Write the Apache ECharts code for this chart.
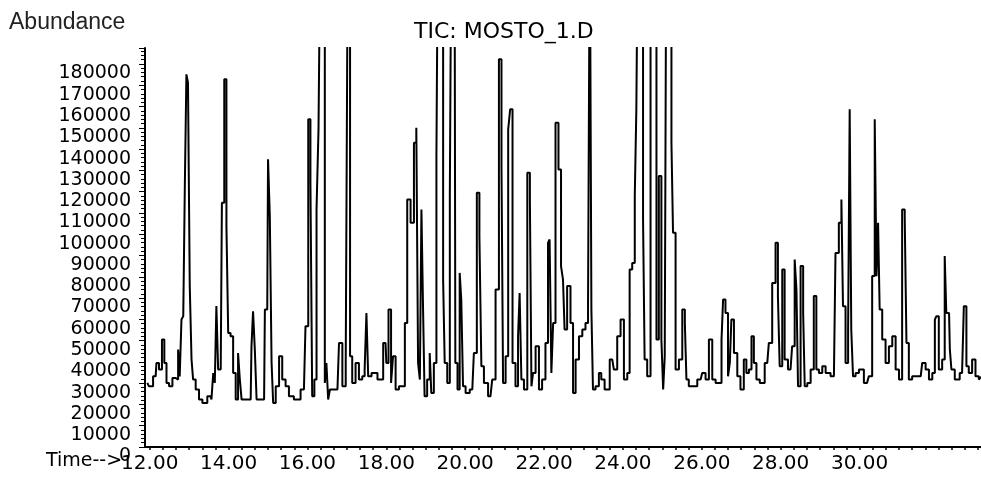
<!DOCTYPE html>
<html>
<head>
<meta charset="utf-8">
<title>TIC: MOSTO_1.D</title>
<script src="https://cdn.jsdelivr.net/npm/echarts@6/dist/echarts.min.js"></script>
<style>
  html, body { margin: 0; padding: 0; background: #fff; }
  #chart { width: 981px; height: 477px; }
</style>
</head>
<body>
<div id="chart"></div>
<script>
// Total ion chromatogram, [retention time (min), abundance] pairs, split by time window.
const trace12to16 = [
  [11.94,30100],[12.02,28500],[12.15,33200],[12.19,39500],[12.28,36400],[12.34,50500],[12.40,39500],[12.45,30100],
  [12.53,28500],[12.62,32400],[12.70,31700],[12.74,45800],[12.78,33200],[12.83,59900],[12.87,61500],[12.91,122600],
  [12.95,175100],[12.99,171200],[13.04,75600],[13.08,41100],[13.12,31700],[13.21,27000],[13.29,22300],[13.38,20700],
  [13.54,23800],[13.59,22300],[13.63,34800],[13.67,30100],[13.71,66200],[13.76,36400],[13.80,36400],[13.86,114800],
  [13.92,172800],[13.97,103800],[14.01,53600],[14.09,52000],[14.14,34800],[14.22,22300],[14.26,44200],[14.31,31700],
  [14.35,22300],[14.56,22300],[14.60,47300],[14.64,63800],[14.69,45800],[14.73,22300],[14.90,22300],[14.94,64600],
  [14.98,64600],[15.02,135200],[15.07,108500],[15.11,39500],[15.15,20700],[15.24,28500],[15.32,42600],[15.40,31700],
  [15.49,28500],[15.57,23800],[15.74,22300],[15.91,27000]
];
const trace16to20 = [
  [15.99,56800],[16.05,154000],[16.10,124200],[16.14,23800],[16.21,31700],[16.25,111600],[16.31,149300],[16.35,250000],
  [16.42,250000],[16.46,30100],[16.50,39500],[16.55,22300],[16.59,27000],[16.76,27000],[16.84,48900],[16.93,28500],
  [17.01,39500],[17.04,250000],[17.07,250000],[17.09,42600],[17.18,30100],[17.26,39500],[17.35,31700],[17.43,33200],
  [17.47,36400],[17.52,63000],[17.56,33200],[17.69,34800],[17.86,31700],[17.98,48900],[18.02,39500],[18.09,64600],
  [18.15,30100],[18.19,42600],[18.28,27000],[18.36,28500],[18.45,28500],[18.49,58300],[18.57,116300],[18.66,105400],
  [18.74,143000],[18.78,150000],[18.83,39500],[18.87,31700],[18.91,111600],[18.95,66200],[18.99,23800],[19.08,31700],
  [19.12,44200],[19.16,25400],[19.25,39500],[19.29,136700],[19.33,250000],[19.42,250000],[19.46,78700],[19.50,39500],
  [19.59,30100],[19.63,117900],[19.67,250000],[19.73,250000],[19.77,39500],[19.84,27000],[19.88,81800],[19.92,69300],
  [19.97,28500]
];
const trace20to24 = [
  [20.05,25400],[20.18,27000],[20.26,44200],[20.33,119500],[20.39,99100],[20.43,37900],[20.52,30100],[20.64,23800],
  [20.73,31700],[20.81,74000],[20.90,182200],[20.94,132000],[20.98,30100],[21.07,42600],[21.11,149300],[21.17,158700],
  [21.23,39500],[21.32,28500],[21.36,52000],[21.40,72400],[21.45,31700],[21.53,27000],[21.62,128900],[21.66,116300],
  [21.70,28500],[21.74,34800],[21.83,47300],[21.91,27000],[21.99,31700],[22.08,48900],[22.12,96000],[22.16,97500],
  [22.21,34800],[22.25,58300],[22.33,152400],[22.40,130400],[22.46,85000],[22.50,78700],[22.54,55200],[22.63,75600],
  [22.71,58300],[22.76,25400],[22.84,41100],[22.93,52000],[23.01,55200],[23.09,58300],[23.14,67700],[23.18,250000],
  [23.22,64600],[23.26,27000],[23.35,28500],[23.43,34800],[23.47,31700],[23.60,27000],[23.73,41100],[23.81,36400],
  [23.90,52000],[23.98,59900]
];
const trace24to28 = [
  [24.07,31700],[24.15,34800],[24.19,83400],[24.28,86500],[24.32,117900],[24.36,158700],[24.40,250000],[24.49,250000],
  [24.53,106900],[24.57,41100],[24.66,33200],[24.74,250000],[24.83,250000],[24.87,50500],[24.95,127300],[25.00,50500],
  [25.04,27000],[25.08,42600],[25.12,250000],[25.21,250000],[25.25,143000],[25.29,100700],[25.38,36400],[25.46,41100],
  [25.55,64600],[25.59,58300],[25.63,31700],[25.71,28500],[25.80,28500],[25.97,31700],[26.05,34800],[26.14,31700],
  [26.22,50500],[26.31,31700],[26.39,30100],[26.48,30100],[26.52,50500],[26.56,69300],[26.64,63000],[26.69,33200],
  [26.73,39500],[26.77,59900],[26.86,44200],[26.94,33200],[27.02,27000],[27.11,41100],[27.15,34800],[27.24,36400],
  [27.28,52000],[27.36,39500],[27.41,31700],[27.53,30100],[27.66,39500],[27.74,48900],[27.83,77100],[27.91,96000],
  [27.95,70900]
];
const trace28to33 = [
  [28.00,37900],[28.08,83400],[28.12,41100],[28.25,36400],[28.33,47300],[28.38,88100],[28.42,74000],[28.46,28500],
  [28.55,85000],[28.59,63000],[28.63,28500],[28.72,30100],[28.80,36400],[28.88,70900],[28.93,36400],[29.01,34800],
  [29.10,37900],[29.18,34800],[29.35,33200],[29.43,91200],[29.52,105400],[29.56,116300],[29.60,66200],[29.69,39500],
  [29.73,55200],[29.77,158700],[29.81,55200],[29.86,33200],[29.94,34800],[30.03,36400],[30.19,30100],[30.28,33200],
  [30.36,80300],[30.41,154000],[30.45,80300],[30.49,105400],[30.53,64600],[30.62,50500],[30.70,39500],[30.79,47300],
  [30.87,52000],[30.96,36400],[31.04,31700],[31.12,111600],[31.17,108500],[31.21,48900],[31.29,31700],[31.38,33200],
  [31.55,33200],[31.63,39500],[31.72,36400],[31.80,31700],[31.89,34800],[31.93,59900],[31.97,61500],[32.05,36400],
  [32.14,41100],[32.18,89700],[32.22,63000],[32.27,63000],[32.31,45800],[32.35,36400],[32.48,31700],[32.60,34800],
  [32.69,66200],[32.73,37900],[32.81,34800],[32.90,41100],[32.98,33200],[33.07,31700],[33.10,33000]
];

// Axis labels
const timeLabels = [12, 14, 16, 18, 20, 22, 24, 26, 28, 30];
const abundanceLabels = [0, 10000, 20000, 30000, 40000, 50000, 60000, 70000, 80000, 90000,
  100000, 110000, 120000, 130000, 140000, 150000, 160000, 170000, 180000];

// Small tick marks along the time axis, three per minute
const timeTickMarks = [];
for (let i = 0; i <= 63; i++) timeTickMarks.push(12 + i / 3);

const trace = [].concat(trace12to16, trace16to20, trace20to24, trace24to28, trace28to33);

const chart = echarts.init(document.getElementById('chart'), null, { renderer: 'canvas' });

const labelFont = '"DejaVu Sans", sans-serif';

chart.setOption({
  backgroundColor: '#ffffff',
  animation: false,
  title: {
    text: 'TIC: MOSTO_1.D',
    left: 414,
    top: 21,
    padding: 0,
    textStyle: { fontFamily: labelFont, fontSize: 22, fontWeight: 'normal', color: '#000' }
  },
  grid: { left: 145, right: 0, top: 48, bottom: 30, containLabel: false },
  xAxis: {
    type: 'value',
    min: 11.88,
    max: 33.08,
    axisLine: { show: true, onZero: false, lineStyle: { color: '#000', width: 2 } },
    axisTick: { show: true, inside: false, length: 3, customValues: timeTickMarks, lineStyle: { color: '#000', width: 1.5 } },
    axisLabel: {
      customValues: timeLabels,
      margin: 7,
      fontFamily: labelFont,
      fontSize: 20,
      color: '#000',
      formatter: v => v.toFixed(2)
    },
    splitLine: { show: false }
  },
  yAxis: {
    type: 'value',
    min: 0,
    max: 187500,
    interval: 10000,
    axisLine: { show: true, onZero: false, lineStyle: { color: '#000', width: 2 } },
    axisTick: { show: true, inside: false, length: 6, lineStyle: { color: '#000', width: 1 } },
    minorTick: { show: true, splitNumber: 5, length: 4, lineStyle: { color: '#000', width: 1 } },
    axisLabel: {
      customValues: abundanceLabels,
      margin: 14,
      verticalAlign: 'top',
      fontFamily: labelFont,
      fontSize: 19,
      color: '#000',
      formatter: v => String(v)
    },
    splitLine: { show: false }
  },
  graphic: [
    {
      type: 'text',
      left: 9,
      top: 11,
      style: { text: 'Abundance', font: '23px "Liberation Sans", Arial, sans-serif', fill: '#222' }
    },
    {
      type: 'text',
      left: 46,
      top: 452,
      style: { text: 'Time-->', font: '19px "DejaVu Sans", sans-serif', fill: '#000' }
    }
  ],
  series: [{
    type: 'line',
    data: trace,
    step: 'middle',
    showSymbol: false,
    symbol: 'none',
    clip: true,
    lineStyle: { color: '#000', width: 2 },
    z: 3
  }]
});
</script>
</body>
</html>
